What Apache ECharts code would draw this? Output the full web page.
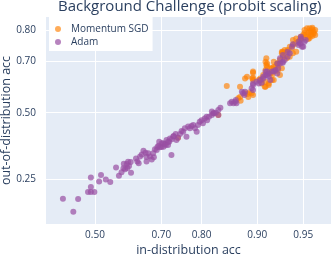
<!DOCTYPE html>
<html><head><meta charset="utf-8">
<script src="https://cdn.jsdelivr.net/npm/echarts@6/dist/echarts.min.js"></script>
<style>html,body{margin:0;padding:0;background:#fff}#c{width:332px;height:254px}</style>
</head><body><div id="c"></div>
<script>
const titleText = 'Background Challenge (probit scaling)';
const xTickLabels = ['0.50','0.70','0.80','0.90','0.95'];
const yTickLabels = ['0.25','0.50','0.70','0.80'];
const seriesNames = ['Momentum SGD','Adam'];
// [in-distribution acc, out-of-distribution acc]
const sgdPoints = [
[0.744,0.400],[0.835,0.491],[0.851,0.607],[0.871,0.558],[0.875,0.548],[0.874,0.604],[0.874,0.564],
[0.882,0.578],[0.885,0.643],[0.886,0.575],[0.887,0.564],[0.889,0.582],[0.892,0.578],[0.894,0.571],
[0.893,0.636],[0.894,0.658],[0.894,0.662],[0.894,0.640],[0.894,0.630],[0.882,0.636],[0.902,0.630],
[0.904,0.636],[0.906,0.617],[0.906,0.630],[0.908,0.649],[0.910,0.604],[0.911,0.624],[0.911,0.604],
[0.911,0.668],[0.911,0.698],[0.912,0.710],[0.912,0.686],[0.913,0.692],[0.913,0.680],[0.915,0.617],
[0.915,0.611],[0.915,0.655],[0.917,0.674],[0.917,0.655],[0.919,0.649],[0.919,0.630],[0.919,0.674],
[0.921,0.680],[0.921,0.630],[0.921,0.698],[0.923,0.662],[0.923,0.680],[0.925,0.692],[0.926,0.686],
[0.926,0.668],[0.926,0.692],[0.928,0.704],[0.928,0.649],[0.930,0.674],[0.930,0.727],[0.930,0.732],
[0.931,0.732],[0.931,0.715],[0.933,0.717],[0.933,0.738],[0.935,0.732],[0.935,0.710],[0.936,0.738],
[0.938,0.749],[0.938,0.715],[0.940,0.743],[0.941,0.754],[0.941,0.770],[0.941,0.727],[0.943,0.759],
[0.944,0.775],[0.944,0.732],[0.946,0.765],[0.947,0.770],[0.948,0.780],[0.950,0.775],[0.951,0.800],
[0.952,0.785],[0.953,0.805],[0.954,0.780],[0.955,0.805],[0.956,0.785],[0.957,0.802],[0.958,0.795],
[0.958,0.790],[0.954,0.791],[0.955,0.797],[0.956,0.794],[0.951,0.791],[0.950,0.785],[0.957,0.806],
[0.959,0.800],[0.959,0.785],[0.954,0.773],[0.955,0.776],[0.957,0.782]
];
const adamPoints = [
[0.400,0.191],[0.432,0.157],[0.447,0.190],[0.478,0.210],[0.487,0.210],[0.498,0.210],[0.487,0.225],
[0.487,0.255],[0.513,0.242],[0.519,0.263],[0.534,0.249],[0.548,0.241],[0.566,0.289],[0.575,0.261],
[0.583,0.273],[0.589,0.286],[0.590,0.302],[0.599,0.301],[0.594,0.283],[0.601,0.287],[0.603,0.309],
[0.611,0.308],[0.612,0.271],[0.606,0.294],[0.627,0.321],[0.631,0.310],[0.635,0.304],[0.639,0.328],
[0.644,0.336],[0.649,0.350],[0.655,0.342],[0.658,0.326],[0.663,0.340],[0.668,0.328],[0.658,0.310],
[0.673,0.317],[0.679,0.325],[0.682,0.355],[0.687,0.352],[0.692,0.369],[0.696,0.363],[0.701,0.378],
[0.714,0.391],[0.718,0.371],[0.721,0.384],[0.727,0.334],[0.728,0.394],[0.733,0.406],[0.738,0.414],
[0.740,0.391],[0.744,0.400],[0.749,0.414],[0.753,0.426],[0.757,0.423],[0.761,0.437],[0.765,0.404],
[0.769,0.444],[0.773,0.437],[0.777,0.446],[0.781,0.450],[0.785,0.437],[0.789,0.423],[0.792,0.450],
[0.796,0.463],[0.800,0.470],[0.803,0.457],[0.807,0.477],[0.812,0.470],[0.816,0.484],[0.822,0.491],
[0.825,0.498],[0.830,0.500],[0.835,0.491],[0.677,0.340],[0.689,0.364],[0.694,0.384],[0.700,0.364],
[0.706,0.365],[0.709,0.375],[0.723,0.397],[0.732,0.406],[0.705,0.378],[0.712,0.371],[0.718,0.384],
[0.822,0.505],[0.826,0.498],[0.839,0.520],[0.835,0.511],[0.811,0.484],[0.857,0.538],[0.860,0.544],
[0.863,0.538],[0.866,0.544],[0.868,0.538],[0.867,0.551],[0.877,0.584],[0.879,0.578],[0.882,0.584],
[0.881,0.571],[0.892,0.598],[0.894,0.591],[0.894,0.611],[0.894,0.617],[0.899,0.624],[0.902,0.617],
[0.904,0.630],[0.906,0.620],[0.908,0.643],[0.908,0.636],[0.911,0.649],[0.913,0.649],[0.911,0.662],
[0.913,0.662],[0.915,0.655],[0.915,0.643],[0.917,0.630],[0.919,0.662],[0.921,0.662],[0.923,0.668],
[0.925,0.692],[0.925,0.655],[0.926,0.674],[0.928,0.692],[0.928,0.710],[0.931,0.694],[0.931,0.721],
[0.931,0.698],[0.933,0.704],[0.936,0.732],[0.936,0.715],[0.938,0.727],[0.940,0.749],[0.941,0.757],
[0.946,0.765],[0.946,0.754],[0.947,0.759],[0.948,0.780],[0.948,0.775],[0.948,0.759],[0.949,0.749],
[0.950,0.749],[0.951,0.765],[0.952,0.770]
];

// inverse standard normal CDF (Acklam)
function probit(p){
  const a=[-3.969683028665376e+01,2.209460984245205e+02,-2.759285104469687e+02,1.383577518672690e+02,-3.066479806614716e+01,2.506628277459239e+00];
  const b=[-5.447609879822406e+01,1.615858368580409e+02,-1.556989798598866e+02,6.680131188771972e+01,-1.328068155288572e+01];
  const c=[-7.784894002430293e-03,-3.223964580411365e-01,-2.400758277161838e+00,-2.549732539343734e+00,4.374664141464968e+00,2.938163982698783e+00];
  const d=[7.784695709041462e-03,3.224671290700398e-01,2.445134137142996e+00,3.754408661907416e+00];
  const pl=0.02425;
  let q,r;
  if(p<pl){q=Math.sqrt(-2*Math.log(p));return (((((c[0]*q+c[1])*q+c[2])*q+c[3])*q+c[4])*q+c[5])/((((d[0]*q+d[1])*q+d[2])*q+d[3])*q+1);}
  if(p>1-pl){q=Math.sqrt(-2*Math.log(1-p));return -(((((c[0]*q+c[1])*q+c[2])*q+c[3])*q+c[4])*q+c[5])/((((d[0]*q+d[1])*q+d[2])*q+d[3])*q+1);}
  q=p-0.5;r=q*q;
  return (((((a[0]*r+a[1])*r+a[2])*r+a[3])*r+a[4])*r+a[5])*q/(((((b[0]*r+b[1])*r+b[2])*r+b[3])*r+b[4])*r+1);
}
const xTicks = xTickLabels.map(s=>probit(parseFloat(s)));
const yTicks = yTickLabels.map(s=>probit(parseFloat(s)));
function labelFor(ticks, labels){
  return v => { for(let i=0;i<ticks.length;i++){ if(Math.abs(ticks[i]-v)<1e-6) return labels[i]; } return ''; };
}
const toProbit = pts => pts.map(p=>[probit(p[0]), probit(p[1])]);

const FONT = '"Open Sans", verdana, arial, sans-serif';
const TXT = '#2a3f5f';
const chart = echarts.init(document.getElementById('c'), null, {renderer:'canvas'});
chart.setOption({
  animation:false,
  backgroundColor:'#fff',
  textStyle:{fontFamily:FONT},
  title:{text:titleText,left:58,top:-1,padding:0,textStyle:{fontFamily:FONT,fontSize:15,fontWeight:'normal',color:TXT}},
  legend:{
    orient:'vertical',left:49,top:17,padding:[6,4,3,6],itemGap:1,
    backgroundColor:'#fff',icon:'circle',itemWidth:16,itemHeight:6,
    textStyle:{fontFamily:FONT,fontSize:10,color:TXT,lineHeight:12},
    data:seriesNames
  },
  grid:{left:46,right:1,top:17,bottom:30,show:true,backgroundColor:'#E5ECF6',borderWidth:0,outerBoundsMode:'none',containLabel:false},
  xAxis:{
    type:'value',min:-0.387,max:1.864,
    name:'in-distribution acc',nameLocation:'middle',nameGap:19.5,nameMoveOverlap:false,
    nameTextStyle:{fontFamily:FONT,fontSize:12.5,color:TXT},
    axisLine:{show:false},
    axisTick:{show:false,customValues:xTicks},
    axisLabel:{customValues:xTicks,formatter:labelFor(xTicks,xTickLabels),fontFamily:FONT,fontSize:10,color:TXT,margin:6},
    splitLine:{show:true,lineStyle:{color:'#fff',width:1}}
  },
  yAxis:{
    type:'value',min:-1.131,max:0.973,
    name:'out-of-distribution acc',nameLocation:'middle',nameGap:33,nameMoveOverlap:false,
    nameTextStyle:{fontFamily:FONT,fontSize:12.5,color:TXT},
    axisLine:{show:false},
    axisTick:{show:false,customValues:yTicks},
    axisLabel:{customValues:yTicks,formatter:labelFor(yTicks,yTickLabels),fontFamily:FONT,fontSize:10,color:TXT,margin:10},
    splitLine:{show:true,lineStyle:{color:'#fff',width:1}}
  },
  series:[
    {name:seriesNames[0],type:'scatter',symbol:'circle',symbolSize:6,data:toProbit(sgdPoints),
     itemStyle:{color:'#FF7F00',opacity:0.65}},
    {name:seriesNames[1],type:'scatter',symbol:'circle',symbolSize:6,data:toProbit(adamPoints),
     itemStyle:{color:'#984EA3',opacity:0.7}}
  ]
});
</script></body></html>
